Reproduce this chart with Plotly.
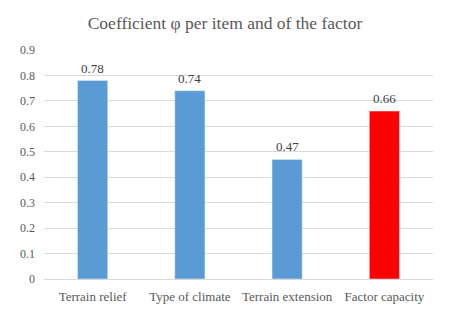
import plotly.graph_objects as go

categories = ["Terrain relief", "Type of climate", "Terrain extension", "Factor capacity"]
values = [0.78, 0.74, 0.47, 0.66]
colors = ["#5B9BD5", "#5B9BD5", "#5B9BD5", "#FF0000"]
tick_vals = [0, 0.1, 0.2, 0.3, 0.4, 0.5, 0.6, 0.7, 0.8, 0.9]
tick_text = ["0", "0.1", "0.2", "0.3", "0.4", "0.5", "0.6", "0.7", "0.8", "0.9"]

# page body has an 8px margin; compensate so the plot lands where the reference has it
W, H = 442, 308
L, R, T, B = 29, 17, 42, 33

fig = go.Figure(go.Bar(
    x=categories, y=values, marker_color=colors, width=0.31,
))

for c, v in zip(categories, values):
    fig.add_annotation(x=c, y=v, text=f"{v:.2f}", showarrow=False,
                       yanchor="bottom", yshift=3,
                       font=dict(family="Liberation Serif", size=13, color="#404040"))

fig.update_layout(
    width=W, height=H,
    margin=dict(l=L, r=R, t=T, b=B),
    paper_bgcolor="white", plot_bgcolor="white",
    title=dict(text="Coefficient φ per item and of the factor", x=(225 - 8) / W,
               xanchor="center", y=1 - 15 / H, yanchor="middle",
               font=dict(family="Liberation Serif", size=17.5, color="#595959")),
    font=dict(family="Liberation Serif", size=12, color="#595959"),
    showlegend=False,
    xaxis=dict(showgrid=False, showline=True, linecolor="#D9D9D9", linewidth=1,
               ticklabelstandoff=5,
               tickfont=dict(family="Liberation Serif", size=13, color="#595959")),
    yaxis=dict(range=[0, 0.9], tickvals=tick_vals, ticktext=tick_text,
               showgrid=True, gridcolor="#D9D9D9", gridwidth=1, zeroline=False,
               ticklabelstandoff=8,
               tickfont=dict(family="Liberation Serif", size=12, color="#595959"),
               ticks=""),
)

fig.write_html("out.html")
